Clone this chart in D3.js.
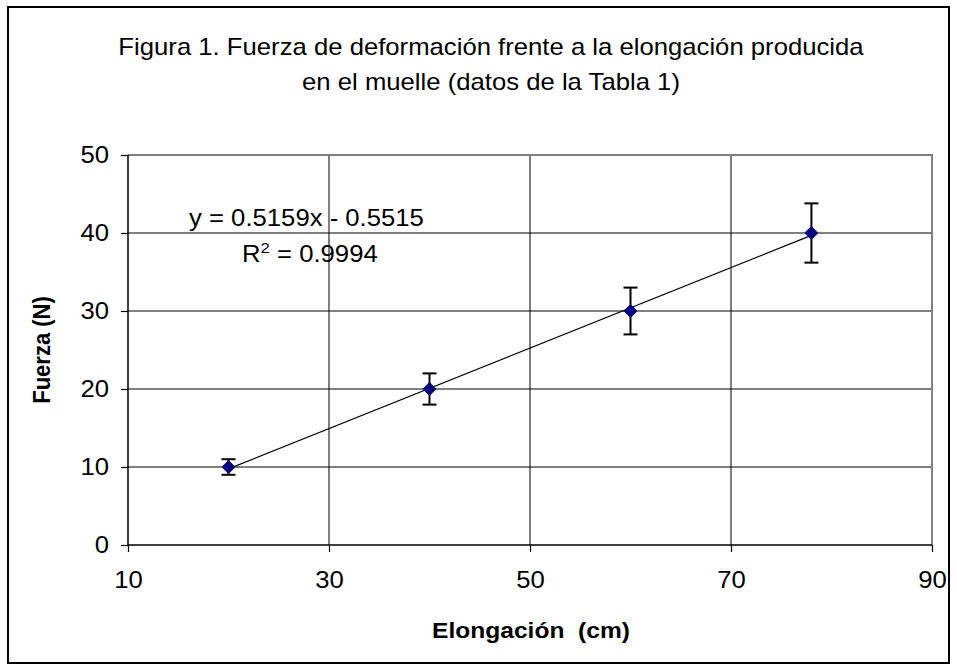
<!DOCTYPE html>
<html>
<head>
<meta charset="utf-8">
<style>
  body { margin: 0; background: #fff; }
  text { font-family: Arial, "Liberation Sans", sans-serif; fill: #000; }
</style>
</head>
<body>
<svg width="957" height="671"></svg>
<script src="https://d3js.org/d3.v7.min.js"></script>
<script>

// data (Tabla 1)
var elongacion = [20, 40, 60, 78],
    fuerza = [10, 20, 30, 40],
    errFuerza = [1, 2, 3, 3.8];

var xTicks = [10, 30, 50, 70, 90],
    yTicks = [0, 10, 20, 30, 40, 50];

var slope = 0.5159, intercept = -0.5515, rSquared = 0.9994;

var titleLines = ["Figura 1. Fuerza de deformación frente a la elongación producida",
                  "en el muelle (datos de la Tabla 1)"];

(function() {

var svg = d3.select("svg");

// the original picture is a bit wider than tall, text looks stretched
var SX = 1.117;

var pL = 128, pR = 932, pT = 155, pB = 545;

var x = d3.scaleLinear().domain([10, 90]).range([pL, pR]),
    y = d3.scaleLinear().domain([0, 50]).range([pB, pT]);

// outer frame
svg.append("rect")
    .attr("x", 8).attr("y", 7).attr("width", 941).attr("height", 656)
    .attr("fill", "none").attr("stroke", "#000").attr("stroke-width", 2);

// title
svg.selectAll(".title").data(titleLines).enter().append("text")
    .attr("class", "title")
    .attr("transform", function(d, i) { return "translate(491," + (55 + i * 35) + ")scale(" + SX + ",1)"; })
    .attr("text-anchor", "middle")
    .style("font-size", "23px")
    .text(function(d) { return d; });

// gridlines
svg.append("g").selectAll("line").data(yTicks.filter(function(d) { return d > 0 && d < 50; }))
  .enter().append("line")
    .attr("x1", pL).attr("x2", pR)
    .attr("y1", function(d) { return y(d); }).attr("y2", function(d) { return y(d); })
    .attr("stroke", "#000").attr("stroke-width", 1);

svg.append("g").selectAll("line").data(xTicks.filter(function(d) { return d > 10 && d < 90; }))
  .enter().append("line")
    .attr("y1", pT).attr("y2", pB)
    .attr("x1", function(d) { return x(d); }).attr("x2", function(d) { return x(d); })
    .attr("stroke", "#000").attr("stroke-width", 1);

// plot border top / right
svg.append("path")
    .attr("d", "M" + pL + "," + pT + "H" + pR + "V" + pB)
    .attr("fill", "none").attr("stroke", "#808080").attr("stroke-width", 2);

// axes
var yAxis = d3.axisLeft(y).tickValues(yTicks).tickSize(7).tickPadding(12);
var xAxis = d3.axisBottom(x).tickValues(xTicks).tickSize(7).tickPadding(20);

var gy = svg.append("g").attr("transform", "translate(" + pL + ",0)").call(yAxis);
var gx = svg.append("g").attr("transform", "translate(0," + pB + ")").call(xAxis);

gx.select(".domain").attr("d", "M" + pL + ",0H" + pR);
gy.select(".domain").attr("d", "M0," + pT + "V" + pB);

[gx, gy].forEach(function(g) {
  g.select(".domain").attr("stroke", "#000").attr("stroke-width", 1.5);
  g.selectAll(".tick line").attr("stroke", "#000").attr("stroke-width", 1.2);
  g.selectAll(".tick text")
      .style("font-size", "23px")
      .style("font-family", "Arial, 'Liberation Sans', sans-serif")
      .attr("fill", "#000");
});
gy.selectAll(".tick text").attr("x", -19 / SX).attr("transform", "scale(" + SX + ",1)");
gx.selectAll(".tick text").attr("transform", "scale(" + SX + ",1)");

// axis titles
svg.append("text")
    .attr("transform", "translate(531,638)scale(" + SX + ",1)")
    .attr("text-anchor", "middle")
    .style("font-size", "22px").style("font-weight", "bold")
    .attr("xml:space", "preserve")
    .text("Elongación  (cm)");

svg.append("text")
    .attr("transform", "translate(50,350)scale(" + SX + ",1)rotate(-90)")
    .attr("text-anchor", "middle")
    .style("font-size", "22px").style("font-weight", "bold")
    .text("Fuerza (N)");

// trendline
var xMin = d3.min(elongacion), xMax = d3.max(elongacion);
svg.append("line")
    .attr("x1", x(xMin)).attr("y1", y(slope * xMin + intercept))
    .attr("x2", x(xMax)).attr("y2", y(slope * xMax + intercept))
    .attr("stroke", "#000").attr("stroke-width", 1.2);

// equation
svg.append("text")
    .attr("transform", "translate(189,226)scale(" + SX + ",1)")
    .style("font-size", "23px")
    .text("y = " + slope.toFixed(4) + "x - " + Math.abs(intercept).toFixed(4));

var r2 = svg.append("text")
    .attr("transform", "translate(242,262)scale(" + SX + ",1)")
    .style("font-size", "23px");
r2.append("tspan").text("R");
r2.append("tspan").attr("dy", -9).style("font-size", "15px").text("2");
r2.append("tspan").attr("dy", 9).text(" = " + rSquared.toFixed(4));

var pts = elongacion.map(function(d, i) { return { x: d, y: fuerza[i], e: errFuerza[i] }; });

// error bars
var eb = svg.append("g").selectAll("g").data(pts).enter().append("g")
    .attr("stroke", "#000").attr("stroke-width", 2);
eb.append("line")
    .attr("x1", function(d) { return x(d.x); }).attr("x2", function(d) { return x(d.x); })
    .attr("y1", function(d) { return y(d.y - d.e); }).attr("y2", function(d) { return y(d.y + d.e); });
eb.append("line")
    .attr("x1", function(d) { return x(d.x) - 7; }).attr("x2", function(d) { return x(d.x) + 7; })
    .attr("y1", function(d) { return y(d.y + d.e); }).attr("y2", function(d) { return y(d.y + d.e); });
eb.append("line")
    .attr("x1", function(d) { return x(d.x) - 7; }).attr("x2", function(d) { return x(d.x) + 7; })
    .attr("y1", function(d) { return y(d.y - d.e); }).attr("y2", function(d) { return y(d.y - d.e); });

// markers
svg.append("g").selectAll("path").data(pts).enter().append("path")
    .attr("d", function(d) {
      var cx = x(d.x), cy = y(d.y), r = 7;
      return "M" + cx + "," + (cy - r) + "L" + (cx + r) + "," + cy + "L" + cx + "," + (cy + r) + "L" + (cx - r) + "," + cy + "Z";
    })
    .attr("fill", "#000080");

})();

</script>
</body>
</html>
